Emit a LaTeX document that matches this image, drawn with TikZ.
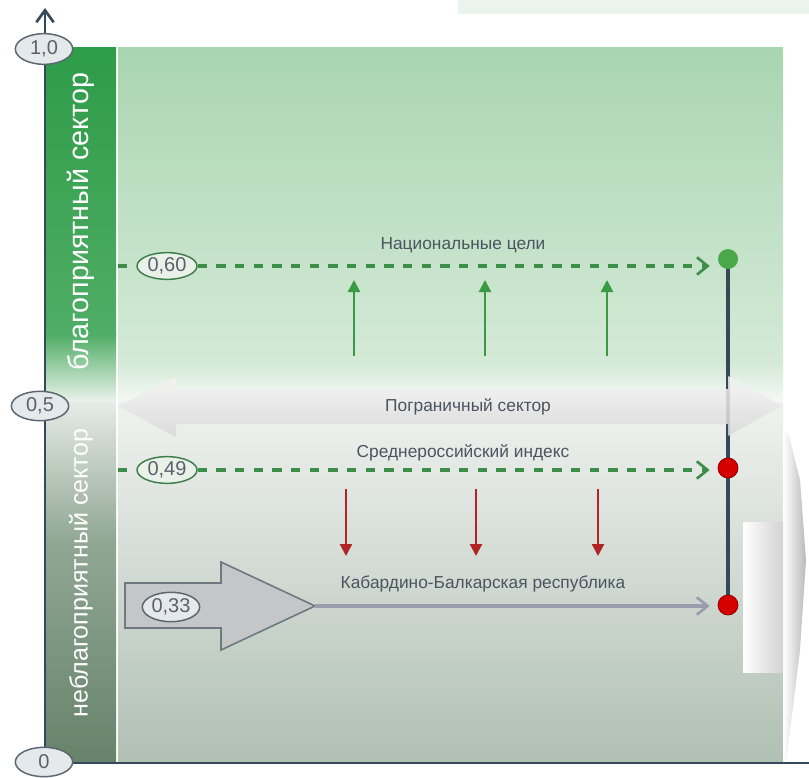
\documentclass[tikz,border=0pt]{standalone}
\usepackage{fontspec}
\setmainfont{Liberation Sans}
\usetikzlibrary{arrows.meta,shapes.geometric}
\definecolor{panelc}{HTML}{ECF3EC}
\definecolor{mainTop}{HTML}{A9D5B1}
\definecolor{mainMid}{HTML}{D4EAD7}
\definecolor{mainWhite}{HTML}{F6F9F6}
\definecolor{lowTop}{HTML}{F0F2F0}
\definecolor{lowBot}{HTML}{B0C0B3}
\definecolor{barTop}{HTML}{2E9C48}
\definecolor{barMid}{HTML}{4FAD65}
\definecolor{barWhite}{HTML}{EEF4EE}
\definecolor{barLowTop}{HTML}{E6EBE6}
\definecolor{barLowMid}{HTML}{91A794}
\definecolor{barLowBot}{HTML}{66836A}
\definecolor{axisc}{HTML}{34495A}
\definecolor{textc}{HTML}{4A5560}
\definecolor{lbltext}{HTML}{59626B}
\definecolor{dashg}{HTML}{3D8E48}
\definecolor{lblBorder}{HTML}{5A6670}
\definecolor{lblFill}{HTML}{E6E9EC}
\definecolor{glblBorder}{HTML}{3F7D4A}
\definecolor{glblFill}{HTML}{E9F1E9}
\definecolor{upg}{HTML}{3A9A44}
\definecolor{downr}{HTML}{B02424}
\definecolor{gdotc}{HTML}{4AA84A}
\definecolor{rdotc}{HTML}{D40000}
\definecolor{kbrline}{HTML}{9A9CAE}
\definecolor{bigarrow}{HTML}{C4C6C8}
\definecolor{bigarrowb}{HTML}{6F7880}
\begin{document}
\begin{tikzpicture}[x=0.75pt,y=-0.75pt,
  axisline/.style={draw=axisc,line width=2.2pt},
  lbl/.style={ellipse,draw=lblBorder,fill=lblFill,line width=1.1pt,minimum width=43pt,minimum height=22pt,inner sep=0pt,text=lbltext,font=\fontsize{15}{15}\selectfont},
  glbl/.style={lbl,draw=glblBorder,fill=glblFill,minimum width=45pt,minimum height=20pt},
  dashline/.style={draw=dashg,line width=2.6pt,dash pattern=on 7pt off 7pt},
  chev/.style={-{Straight Barb[length=8pt,width=13pt,line width=2pt]}},
  uparrow/.style={draw=upg,fill=upg,line width=1.8pt,-{Triangle[length=9pt,width=9pt]}},
  downarrow/.style={draw=downr,fill=downr,line width=1.8pt,-{Triangle[length=9pt,width=9pt]}},
  vline/.style={draw=axisc,line width=2.6pt},
  dot/.style={circle,minimum size=15pt,inner sep=0pt},
  maintext/.style={text=textc,font=\fontsize{13}{13}\selectfont},
  bartext/.style={text=white,rotate=90}
]
\useasboundingbox (0,0) rectangle (809,777);
% top panel
\fill[panelc] (458,0) rectangle (809,14);
% main region
\shade[top color=mainTop,bottom color=mainMid] (118,48) rectangle (783,362);
\shade[top color=mainMid,bottom color=mainWhite] (118,362) rectangle (783,403);
\shade[top color=lowTop,bottom color=lowBot] (118,402) rectangle (783,763);
% left bar
\shade[top color=barTop,bottom color=barMid] (45,48) rectangle (116,335);
\shade[top color=barMid,bottom color=barWhite] (45,334) rectangle (116,403);
\shade[top color=barLowTop,bottom color=barLowMid] (45,402) rectangle (116,541);
\shade[top color=barLowMid,bottom color=barLowBot] (45,540) rectangle (116,763);
% right decoration
\shade[left color=white,right color=gray!55] (783,430) -- (789,436) -- (800,480) -- (806,560) -- (800,650) -- (786,763) -- (783,763) -- cycle;
\shade[left color=white,right color=gray!35] (743,522) rectangle (783,672);
% coordinates of the dots
\coordinate (g) at (728,259);
\coordinate (r1) at (728,468);
\coordinate (r2) at (728,605);
% vertical connector
\draw[vline] (g) -- (r1);
\draw[vline] (r1) -- (r2);
% border-sector double arrow
\shade[top color=gray!8,bottom color=gray!30,opacity=0.85]
  (118,406) -- (176,377) -- (176,389) -- (728,389) -- (728,376) -- (782,406)
  -- (728,436) -- (728,424) -- (176,424) -- (176,437) -- cycle;
\node[maintext] (border) at (468,407) {Пограничный сектор};
% dots
\node[dot,fill=gdotc] (gdot) at (g) {};
\node[dot,fill=rdotc,draw=rdotc!70!black,line width=0.6pt] (rdot1) at (r1) {};
\node[dot,fill=rdotc,draw=rdotc!70!black,line width=0.6pt] (rdot2) at (r2) {};
% national goals line
\node[glbl] (v60) at (167,266) {0,60};
\coordinate (s60) at (118,266);
\draw[dashline] (s60) -- (v60.west);
\draw[dashline,chev,shorten >=6pt] (v60.east) -- (gdot.west |- v60.east);
\node[maintext] (goals) at (463,245) {Национальные цели};
% average index line
\node[glbl] (v49) at (167,470) {0,49};
\coordinate (s49) at (118,470);
\draw[dashline] (s49) -- (v49.west);
\draw[dashline,chev,shorten >=6pt] (v49.east) -- (rdot1.west |- v49.east);
\node[maintext] (avg) at (463,453) {Среднероссийский индекс};
% up arrows
\foreach \x/\n in {354/a,485/b,607/c}{
  \coordinate (u\n0) at (\x,356);
  \coordinate (u\n1) at (\x,280);
  \draw[uparrow] (u\n0) -- (u\n1);
}
% down arrows
\foreach \x/\n in {346/a,476/b,598/c}{
  \coordinate (d\n0) at (\x,489);
  \coordinate (d\n1) at (\x,556);
  \draw[downarrow] (d\n0) -- (d\n1);
}
% KBR big arrow
\draw[fill=bigarrow,draw=bigarrowb,line width=1.2pt,line join=miter]
  (125,583) -- (221,583) -- (221,562) -- (315,606) -- (221,650) -- (221,628) -- (125,628) -- cycle;
\coordinate (tip) at (315,606);
\node[lbl] (v33) at (171,607) {0,33};
\draw[draw=kbrline,line width=2.6pt,-{Straight Barb[length=8pt,width=13pt,line width=2pt]},shorten >=6pt] (tip) -- (rdot2.west |- tip);
\node[maintext] (kbr) at (483,584) {Кабардино-Балкарская республика};
% bar texts
\node[bartext,font=\fontsize{21.5}{21.5}\selectfont] (fav) at (81,222) {благоприятный сектор};
\node[bartext,font=\fontsize{18.8}{18.8}\selectfont] (unfav) at (81,573) {неблагоприятный сектор};
% axes
\coordinate (o) at (45,763);
\coordinate (ytop) at (45,8);
\coordinate (xend) at (809,763);
\draw[axisline] (o) -- (xend);
\draw[axisline,-{Straight Barb[length=9pt,width=13pt,line width=2pt]}] (o) -- (ytop);
\node[lbl,minimum width=43pt,minimum height=23pt] (v10) at (44,49) {1,0};
\node[lbl] (v05) at (40,406) {0,5};
\node[lbl,minimum height=22pt] (v0) at (44,762) {0};
\end{tikzpicture}
\end{document}
